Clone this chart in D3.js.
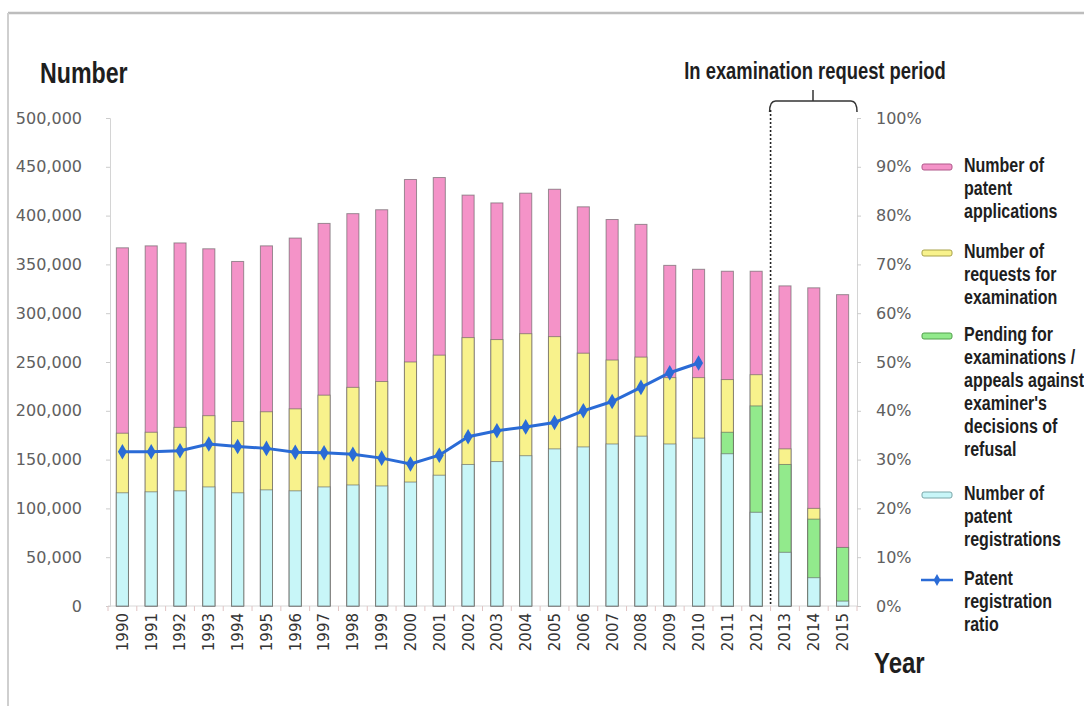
<!DOCTYPE html>
<html>
<head>
<meta charset="utf-8">
<script src="https://cdn.jsdelivr.net/npm/d3@7"></script>
<style>
  html, body { margin: 0; padding: 0; background: #fff; }
  svg { display: block; }
  .narrow { font-family: "Liberation Sans", Arial, sans-serif; font-weight: bold; }
  .tick text { font-family: "DejaVu Sans", Verdana, sans-serif; }
</style>
</head>
<body>
<div id="chart"></div>
<script>
// values: level reached by each coloured part of a bar
var years = [1990, 1991, 1992, 1993, 1994, 1995, 1996, 1997, 1998, 1999, 2000, 2001, 2002,
             2003, 2004, 2005, 2006, 2007, 2008, 2009, 2010, 2011, 2012, 2013, 2014, 2015];
var applications = [367000, 369000, 372000, 366000, 353000, 369000, 377000, 392000, 402000, 406000,
                    437000, 439000, 421000, 413000, 423000, 427000, 409000, 396000, 391000, 349000,
                    345000, 343000, 343000, 328000, 326000, 319000];
var requests = [177000, 178000, 183000, 195000, 189000, 199000, 202000, 216000, 224000, 230000,
                250000, 257000, 275000, 273000, 279000, 276000, 259000, 252000, 255000, 234000,
                234000, 232000, 237000, 161000, 100000, null];
var pending = [null, null, null, null, null, null, null, null, null, null, null, null, null,
               null, null, null, null, null, null, null, null, 178000, 205000, 145000, 89000, 60000];
var registrations = [116000, 117000, 118000, 122000, 116000, 119000, 118000, 122000, 124000, 123000,
                     127000, 134000, 145000, 148000, 154000, 161000, 163000, 166000, 174000, 166000,
                     172000, 156000, 96000, 55000, 29000, 5000];
var ratio = [0.316, 0.316, 0.318, 0.332, 0.327, 0.323, 0.315, 0.314, 0.311, 0.303, 0.291, 0.309,
             0.347, 0.359, 0.367, 0.376, 0.400, 0.419, 0.448, 0.478, 0.498];
var leftTicks = [0, 50000, 100000, 150000, 200000, 250000, 300000, 350000, 400000, 450000, 500000];
var rightTicks = [0, 0.1, 0.2, 0.3, 0.4, 0.5, 0.6, 0.7, 0.8, 0.9, 1];

var legendItems = [
  {color: "#f493c8", stroke: "#b0588a", lines: ["Number of", "patent", "applications"], y: 167},
  {color: "#f8f28c", stroke: "#a8a24a", lines: ["Number of", "requests for", "examination"], y: 253},
  {color: "#92ea8c", stroke: "#52a04c", lines: ["Pending for", "examinations /", "appeals against", "examiner's", "decisions of", "refusal"], y: 336},
  {color: "#c8f6f8", stroke: "#7aa6a8", lines: ["Number of", "patent", "registrations"], y: 495},
  {line: true, lines: ["Patent", "registration", "ratio"], y: 580}
];

var W = 1084, H = 706;
var svg = d3.select("#chart").append("svg").attr("width", W).attr("height", H);

// no narrow font installed: squeeze a bold sans horizontally
function narrowText(parent, px, py, size, lines, gap, anchor) {
  var g = parent.append("g").attr("transform", "translate(" + px + "," + py + ") scale(0.8,1)");
  var t = g.append("text").attr("class", "narrow").style("font-size", size + "px")
    .attr("fill", "#1e1e1e").attr("text-anchor", anchor || "start");
  lines.forEach(function(s, k) {
    t.append("tspan").attr("x", 0).attr("dy", k === 0 ? 0 : gap).text(s);
  });
  return t;
}

// page frame
svg.append("line").attr("x1", 8).attr("x2", W).attr("y1", 13).attr("y2", 13)
  .attr("stroke", "#bdbdbd").attr("stroke-width", 2.5);
svg.append("line").attr("x1", 8).attr("x2", 8).attr("y1", 13).attr("y2", H)
  .attr("stroke", "#cfcfcf").attr("stroke-width", 2);

var x = d3.scaleBand().domain(years).range([108, 857]).paddingInner(0.58).paddingOuter(0.29);
var y = d3.scaleLinear().domain([0, 500000]).range([606, 118]);
var yr = d3.scaleLinear().domain([0, 1]).range([606, 118]);

// axes
var gl = svg.append("g").attr("transform", "translate(110,0)")
  .call(d3.axisLeft(y).tickValues(leftTicks).tickFormat(d3.format(",")).tickSize(4).tickPadding(24));
var gr = svg.append("g").attr("transform", "translate(857,0)")
  .call(d3.axisRight(yr).tickValues(rightTicks).tickFormat(d3.format(".0%")).tickSize(4).tickPadding(15));
[gl, gr].forEach(function(g) {
  g.select(".domain").attr("stroke", "#d4d4d4");
  g.selectAll(".tick line").attr("stroke", "#cccccc");
  g.selectAll(".tick text").attr("fill", "#606060").style("font-size", "16px");
});

svg.append("line").attr("x1", 108).attr("x2", 857).attr("y1", 606).attr("y2", 606)
  .attr("stroke", "#d8d8d8");
svg.append("g").selectAll("line").data(years.concat([null])).enter().append("line")
  .attr("x1", function(d, i) { return 108 + i * x.step(); })
  .attr("x2", function(d, i) { return 108 + i * x.step(); })
  .attr("y1", 606).attr("y2", 611)
  .attr("stroke", "#e0c4c4");

svg.append("g").selectAll("text").data(years).enter().append("text")
  .attr("transform", function(d) { return "translate(" + (x(d) + x.bandwidth() / 2) + ",613) rotate(-90)"; })
  .attr("text-anchor", "end").attr("dy", "0.36em")
  .style("font-family", "'DejaVu Sans', Verdana, sans-serif").style("font-size", "15px")
  .attr("fill", "#333").text(function(d) { return d; });

// bars, drawn as overlapping levels from zero
var layers = [
  {vals: applications, item: legendItems[0]},
  {vals: requests, item: legendItems[1]},
  {vals: pending, item: legendItems[2]},
  {vals: registrations, item: legendItems[3]}
];
layers.forEach(function(layer) {
  svg.append("g").selectAll("rect")
    .data(years.map(function(yy, i) { return {year: yy, v: layer.vals[i]}; })
      .filter(function(d) { return d.v != null; }))
    .enter().append("rect")
    .attr("x", function(d) { return x(d.year); })
    .attr("width", x.bandwidth())
    .attr("y", function(d) { return y(d.v); })
    .attr("height", function(d) { return y(0) - y(d.v); })
    .attr("fill", layer.item.color)
    .attr("stroke", "#5a5a5a").attr("stroke-opacity", 0.6).attr("stroke-width", 1);
});

// examination request period marker
var sep = (x(2012) + x.bandwidth() + x(2013)) / 2;
svg.append("line").attr("x1", sep).attr("x2", sep).attr("y1", 110).attr("y2", 606)
  .attr("stroke", "#222").attr("stroke-width", 1.6).attr("stroke-dasharray", "2,2");
svg.append("path")
  .attr("d", "M" + (sep - 1) + ",112 Q" + (sep - 1) + ",101 " + (sep + 5) + ",101 L" + 851 + ",101 Q857,101 857,112"
    + " M813,101 L813,90")
  .attr("fill", "none").attr("stroke", "#333").attr("stroke-width", 1.5);
narrowText(svg, 815, 79, 23, ["In examination request period"], 0, "middle");

// ratio line
var pts = ratio.map(function(r, i) { return [x(years[i]) + x.bandwidth() / 2, yr(r)]; });
svg.append("path").attr("d", d3.line()(pts))
  .attr("fill", "none").attr("stroke", "#2a6bd6").attr("stroke-width", 3);
svg.append("g").selectAll("path").data(pts).enter().append("path")
  .attr("transform", function(d) { return "translate(" + d[0] + "," + d[1] + ")"; })
  .attr("d", d3.symbol().type(d3.symbolDiamond).size(70))
  .attr("fill", "#2a6bd6");

// axis titles
narrowText(svg, 40, 83, 29, ["Number"], 0);
narrowText(svg, 874, 673, 30, ["Year"], 0);

// legend
var lg = svg.append("g");
legendItems.forEach(function(it) {
  if (it.line) {
    lg.append("line").attr("x1", 921).attr("x2", 953).attr("y1", it.y).attr("y2", it.y)
      .attr("stroke", "#2a6bd6").attr("stroke-width", 2.5);
    lg.append("path").attr("transform", "translate(937," + it.y + ")")
      .attr("d", d3.symbol().type(d3.symbolDiamond).size(40)).attr("fill", "#2a6bd6");
  } else {
    lg.append("rect").attr("x", 922).attr("y", it.y - 3).attr("width", 30).attr("height", 6)
      .attr("rx", 2).attr("fill", it.color).attr("stroke", it.stroke).attr("stroke-width", 1);
  }
  narrowText(lg, 964, it.y + 5, 20, it.lines, 23);
});
</script>
</body>
</html>
